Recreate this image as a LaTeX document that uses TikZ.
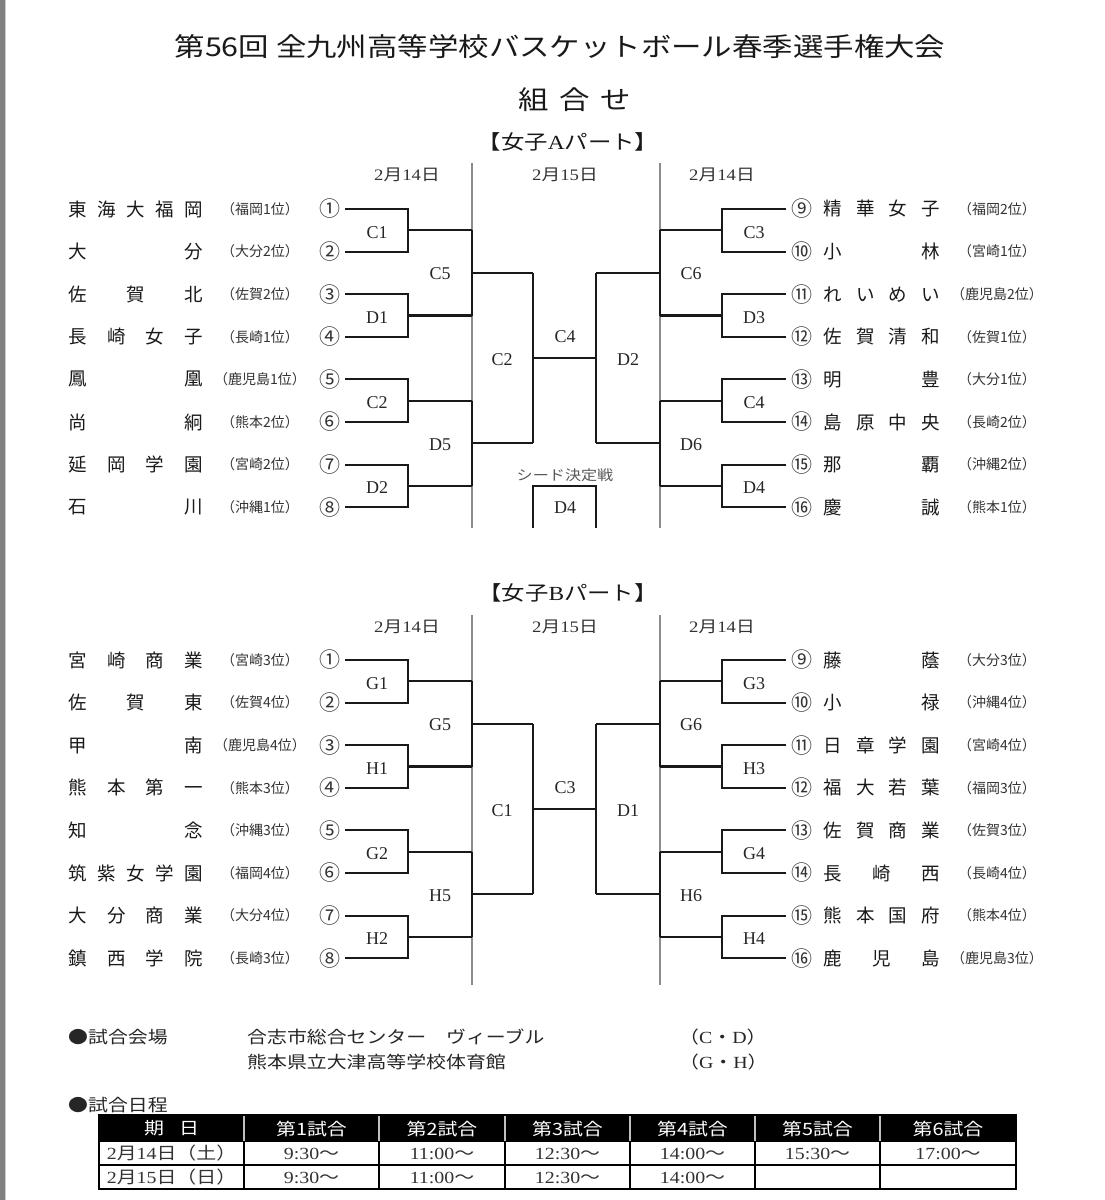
\documentclass[tikz,border=0pt]{standalone}
\usepackage{fontspec}
\setmainfont{Noto Sans CJK JP}
\newfontfamily\lat{Liberation Serif}
\newcommand\fs[1]{\fontsize{#1}{#1}\selectfont}
\newcommand\dt[2]{{\lat #1}月{\lat #2}日}
\tikzset{
  br/.style={line width=2.1pt, black!90},
  divider/.style={line width=1.2pt, black!45},
  team/.style={anchor=west, inner sep=0pt, text=black!90, font=\fs{18.5}},
  pref/.style={inner sep=0pt, text=black!80, font=\fs{14}},
  cnum/.style={inner sep=0pt, text=black!80, font=\fs{21}},
  mlabel/.style={inner sep=0pt, text=black!85, font=\lat\fs{18}},
  datelbl/.style={inner sep=0pt, text=black!80, font=\fs{16}, xscale=1.17},
  seedlbl/.style={inner sep=0pt, text=black!65, font=\fs{14}, xscale=1.15},
  titlelbl/.style={inner sep=0pt, text=black!90, font=\fs{26}, xscale=1.17},
  partlbl/.style={inner sep=0pt, text=black!90, font=\fs{20}, xscale=1.17},
  venue/.style={anchor=west, inner sep=0pt, text=black!85, font=\fs{17}, xscale=1.17},
  thead/.style={inner sep=0pt, text=white, font=\fs{17}, xscale=1.17},
  tcell/.style={inner sep=0pt, text=black!80, font=\fs{17}, xscale=1.17},
  tline/.style={line width=1.3pt, black},
}
% #1 prefix, #2 y0, #3 x circled number, #4 x name left, #5 name width, #6 x pref, #7 x line end, #8 list
\newcommand\teams[8]{%
  \foreach \cn/\nm/\pf [count=\i from 0] in {#8} {%
    \pgfmathsetmacro\yy{#2+\i*42.6}
    \node[cnum] (#1n\i) at (#3,\yy) {\cn};
    \node[team] (#1t\i) at (#4,\yy) {\makebox[#5pt]{\nm}};
    \node[pref] (#1p\i) at (#6,\yy) {\pf};
    \coordinate (#1e\i) at (#7,\yy);
  }%
}
% #1 prefix, #2 y0, #3 outer x, #4 round1 x, #5 round2 x, #6 round3 x
\newcommand\bracketside[6]{%
  \foreach \k in {0,1,2,3} {%
    \pgfmathsetmacro\ya{#2+2*\k*42.6}
    \pgfmathsetmacro\yb{\ya+42.6}
    \pgfmathsetmacro\ym{\ya+21.3}
    \coordinate (#1a\k) at (#3,\ya);
    \coordinate (#1b\k) at (#3,\yb);
    \coordinate (#1m\k) at (#4,\ym);
    \draw[br] (#1a\k) -- (#4,\ya) -- (#4,\yb) -- (#1b\k);
    \draw[br] (#1m\k) -- (#5,\ym);
  }%
  \foreach \k in {0,1} {%
    \pgfmathsetmacro\ya{#2+21.3+4*\k*42.6}
    \pgfmathsetmacro\yb{\ya+85.2}
    \pgfmathsetmacro\ym{\ya+42.6}
    \draw[br] (#5,\ya) -- (#5,\yb);
    \draw[br] (#5,\ym) -- (#6,\ym);
  }%
  \pgfmathsetmacro\ya{#2+63.9}
  \pgfmathsetmacro\yb{\ya+170.4}
  \draw[br] (#6,\ya) -- (#6,\yb);
}
% labels: #1 prefix, #2 y0, #3 x r1, #4 x r2, #5 x r3, #6 r1 list, #7 r2 list, #8 r3 label
\newcommand\matchlabels[8]{%
  \foreach \l [count=\k from 0] in {#6}
    \node[mlabel] (#1r1\k) at (#3,{#2+23.3+\k*85.2}) {\l};
  \foreach \l [count=\k from 0] in {#7}
    \node[mlabel] (#1r2\k) at (#4,{#2+64.9+\k*170.4}) {\l};
  \node[mlabel] (#1r3) at (#5,{#2+151}) {#8};
}
\begin{document}
\begin{tikzpicture}[x=1pt,y=-1pt]
\useasboundingbox (0,0) rectangle (1105,1200);
\fill[white] (0,0) rectangle (1105,1200);
\fill[black!50] (0,0) rectangle (5,1200);
\draw[black!20, line width=0.8pt] (5.6,0) -- (5.6,1200);

% titles
\node[titlelbl] (title) at (560,47) {第56回 全九州高等学校バスケットボール春季選手権大会};
\node[titlelbl] (kumi) at (575,100) {組\hspace{9pt}合\hspace{9pt}せ};
\node[partlbl] (partA) at (568,142) {【女子{\lat A}パート】};
\node[partlbl] (partB) at (568,593) {【女子{\lat B}パート】};

% ===== Part A =====
\draw[divider] (472,163) -- (472,528);
\draw[divider] (660,163) -- (660,528);
\node[datelbl] (dA1) at (407,175) {\dt{2}{14}};
\node[datelbl] (dA2) at (565,175) {\dt{2}{15}};
\node[datelbl] (dA3) at (722,175) {\dt{2}{14}};

\teams{AL}{209}{330}{68}{135}{260}{345}{%
 ①/{東\hfill 海\hfill 大\hfill 福\hfill 岡}/（福岡1位）,
 ②/{大\hfill 分}/（大分2位）,
 ③/{佐\hfill 賀\hfill 北}/（佐賀2位）,
 ④/{長\hfill 崎\hfill 女\hfill 子}/（長崎1位）,
 ⑤/{鳳\hfill 凰}/（鹿児島1位）,
 ⑥/{尚\hfill 絅}/（熊本2位）,
 ⑦/{延\hfill 岡\hfill 学\hfill 園}/（宮崎2位）,
 ⑧/{石\hfill 川}/（沖縄1位）}
\teams{AR}{209}{802}{823}{117}{997}{786}{%
 ⑨/{精\hfill 華\hfill 女\hfill 子}/（福岡2位）,
 ⑩/{小\hfill 林}/（宮崎1位）,
 ⑪/{れ\hfill い\hfill め\hfill い}/（鹿児島2位）,
 ⑫/{佐\hfill 賀\hfill 清\hfill 和}/（佐賀1位）,
 ⑬/{明\hfill 豊}/（大分1位）,
 ⑭/{島\hfill 原\hfill 中\hfill 央}/（長崎2位）,
 ⑮/{那\hfill 覇}/（沖縄2位）,
 ⑯/{慶\hfill 誠}/（熊本1位）}

\bracketside{ALb}{209}{345}{408}{472}{533}
\bracketside{ARb}{209}{786}{722}{660}{596}
\coordinate (AfinL) at (533,358.1);
\coordinate (AfinR) at (596,358.1);
\draw[br] (AfinL) -- (AfinR);
\node[mlabel] (Afinal) at (565,337) {C4};

\matchlabels{ALl}{209}{377}{440}{502}{C1,D1,C2,D2}{C5,D5}{C2}
\matchlabels{ARl}{209}{754}{691}{628}{C3,D3,C4,D4}{C6,D6}{D2}

\node[seedlbl] (seed) at (565,475) {シード決定戦};
\node[mlabel] (seedD4) at (565,508) {D4};
\coordinate (sA) at (533,528);
\coordinate (sB) at (596,528);
\draw[br] (sA) -- (533,486) -- (596,486) -- (sB);

% ===== Part B =====
\draw[divider] (472,615) -- (472,985);
\draw[divider] (660,615) -- (660,985);
\node[datelbl] (dB1) at (407,627) {\dt{2}{14}};
\node[datelbl] (dB2) at (565,627) {\dt{2}{15}};
\node[datelbl] (dB3) at (722,627) {\dt{2}{14}};

\teams{BL}{660}{330}{68}{135}{260}{345}{%
 ①/{宮\hfill 崎\hfill 商\hfill 業}/（宮崎3位）,
 ②/{佐\hfill 賀\hfill 東}/（佐賀4位）,
 ③/{甲\hfill 南}/（鹿児島4位）,
 ④/{熊\hfill 本\hfill 第\hfill 一}/（熊本3位）,
 ⑤/{知\hfill 念}/（沖縄3位）,
 ⑥/{筑\hfill 紫\hfill 女\hfill 学\hfill 園}/（福岡4位）,
 ⑦/{大\hfill 分\hfill 商\hfill 業}/（大分4位）,
 ⑧/{鎮\hfill 西\hfill 学\hfill 院}/（長崎3位）}
\teams{BR}{660}{802}{823}{117}{997}{786}{%
 ⑨/{藤\hfill 蔭}/（大分3位）,
 ⑩/{小\hfill 禄}/（沖縄4位）,
 ⑪/{日\hfill 章\hfill 学\hfill 園}/（宮崎4位）,
 ⑫/{福\hfill 大\hfill 若\hfill 葉}/（福岡3位）,
 ⑬/{佐\hfill 賀\hfill 商\hfill 業}/（佐賀3位）,
 ⑭/{長\hfill 崎\hfill 西}/（長崎4位）,
 ⑮/{熊\hfill 本\hfill 国\hfill 府}/（熊本4位）,
 ⑯/{鹿\hfill 児\hfill 島}/（鹿児島3位）}

\bracketside{BLb}{660}{345}{408}{472}{533}
\bracketside{BRb}{660}{786}{722}{660}{596}
\coordinate (BfinL) at (533,809.1);
\coordinate (BfinR) at (596,809.1);
\draw[br] (BfinL) -- (BfinR);
\node[mlabel] (Bfinal) at (565,788) {C3};

\matchlabels{BLl}{660}{377}{440}{502}{G1,H1,G2,H2}{G5,H5}{C1}
\matchlabels{BRl}{660}{754}{691}{628}{G3,H3,G4,H4}{G6,H6}{D1}

% ===== Venue =====
\node[venue] (v1) at (68,1037) {●試合会場};
\node[venue] (v2) at (247,1037) {合志市総合センター　ヴィーブル};
\node[venue] (v3) at (679,1037) {（{\lat C}・{\lat D}）};
\node[venue] (v4) at (247,1062) {熊本県立大津高等学校体育館};
\node[venue] (v5) at (679,1062) {（{\lat G}・{\lat H}）};
\node[venue] (v6) at (68,1105) {●試合日程};

% ===== Table =====
\fill[black] (99,1115) rectangle (1016,1141.5);
\foreach \x in {244,379,505,630,755,880}
  \draw[white!75!black, line width=1.4pt] (\x,1115) -- (\x,1141.5);
\foreach \x in {244,379,505,630,755,880}
  \draw[tline] (\x,1141.5) -- (\x,1189);
\draw[tline] (99,1141.5) -- (1016,1141.5);
\draw[tline] (99,1165) -- (1016,1165);
\draw[tline, line width=1.8pt] (99,1115) rectangle (1016,1189);

\foreach \cx/\txt [count=\c from 0] in {171.5/{期\hspace{13pt}日},311.5/第1試合,442/第2試合,567.5/第3試合,692.5/第4試合,817.5/第5試合,948/第6試合}
  \node[thead] (h\c) at (\cx,1128.5) {\txt};
\foreach \cx/\txt [count=\c from 0] in {171.5/{{\lat 2}月{\lat 14}日（土）},311.5/{{\lat 9:30}〜},442/{{\lat 11:00}〜},567.5/{{\lat 12:30}〜},692.5/{{\lat 14:00}〜},817.5/{{\lat 15:30}〜},948/{{\lat 17:00}〜}}
  \node[tcell] (ra\c) at (\cx,1153.5) {\txt};
\foreach \cx/\txt [count=\c from 0] in {171.5/{{\lat 2}月{\lat 15}日（日）},311.5/{{\lat 9:30}〜},442/{{\lat 11:00}〜},567.5/{{\lat 12:30}〜},692.5/{{\lat 14:00}〜}}
  \node[tcell] (rb\c) at (\cx,1177.5) {\txt};
\end{tikzpicture}
\end{document}
